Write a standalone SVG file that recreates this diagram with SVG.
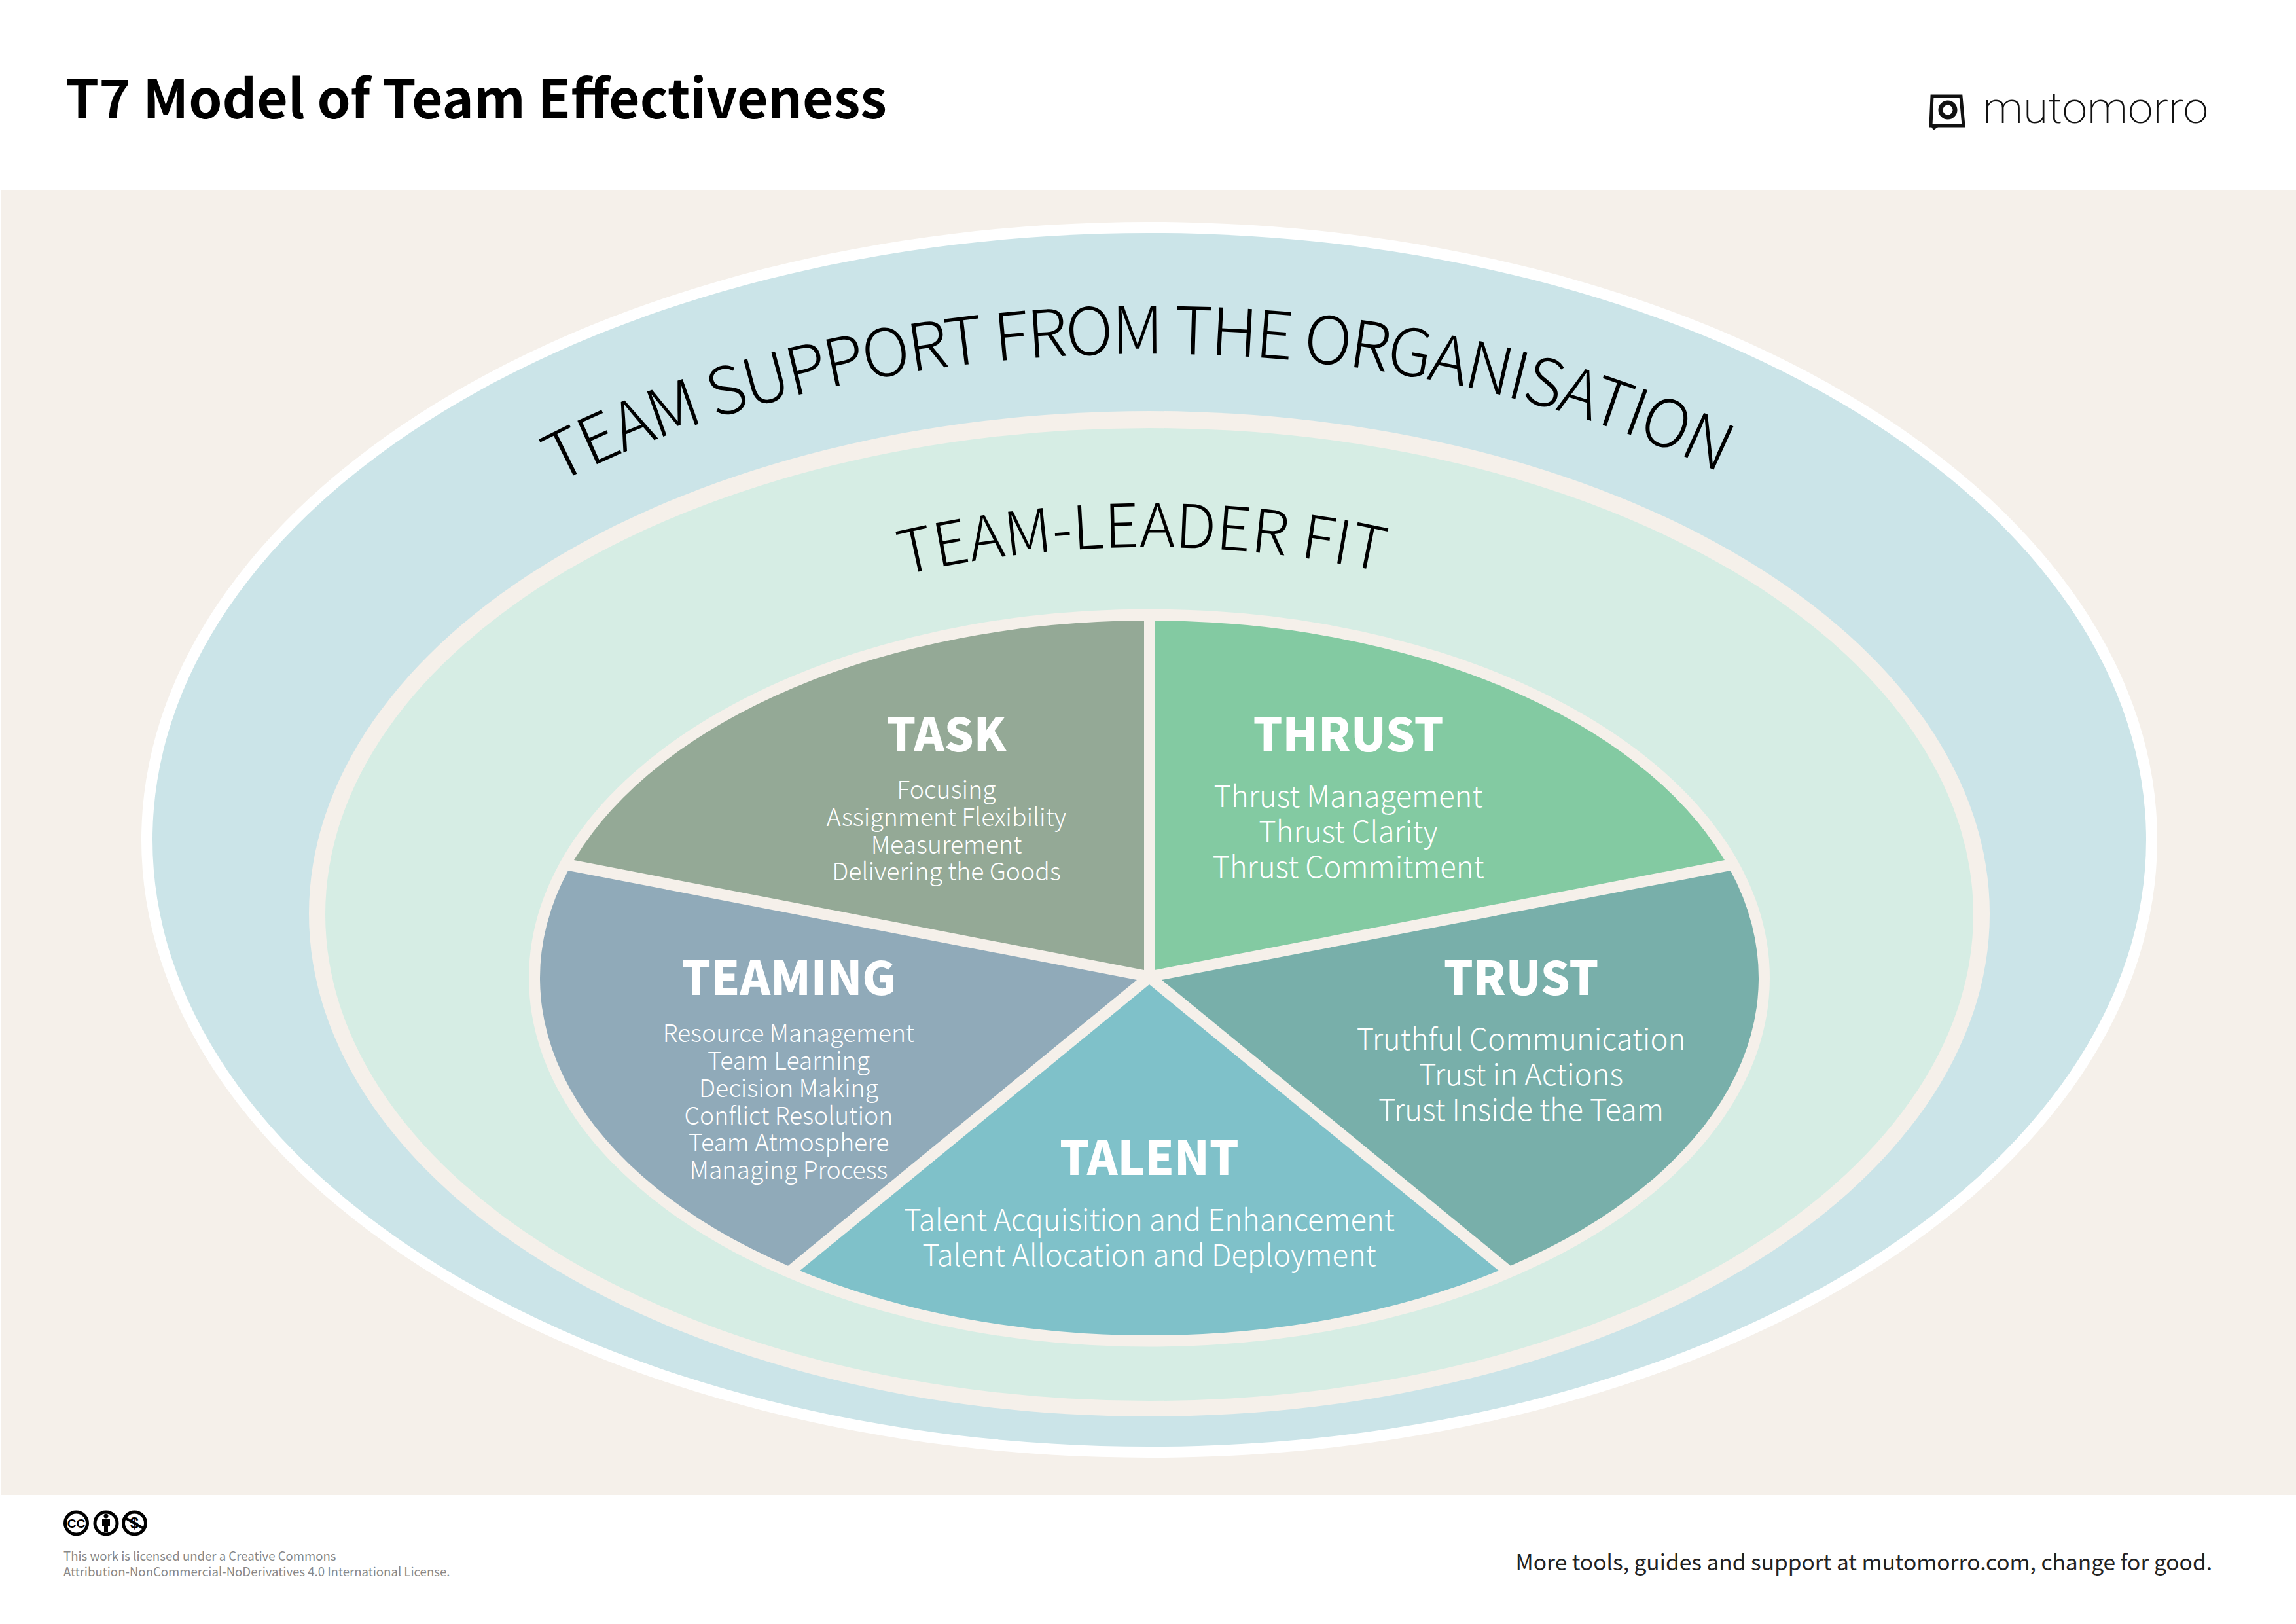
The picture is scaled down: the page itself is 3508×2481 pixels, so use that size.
<svg xmlns="http://www.w3.org/2000/svg" width="3508" height="2481" viewBox="0 0 3508 2481">
<defs>
<style>
text{font-family:"Noto Sans CJK SC","Liberation Sans",sans-serif}
.h{font-size:70.5px;font-weight:900;fill:#fff;text-anchor:middle}
.s{font-size:37.4px;font-weight:300;fill:#fff;text-anchor:middle}
.l{font-size:45.4px;font-weight:300;fill:#fff;text-anchor:middle}
.arc{font-weight:200;fill:#000;text-anchor:middle}
.lic{font-size:18.6px;fill:#888}
</style>
<path id="p1" d="M427,1283 A1329,743 0 0 1 3085,1283"/>
<path id="p2" d="M773,1397 A983,561 0 0 1 2739,1397"/>
</defs>
<rect width="3508" height="2481" fill="#fff"/>
<rect x="2" y="291" width="3506" height="1993" fill="#f5f0ea"/>
<text x="100" y="181" font-size="82" font-weight="700" fill="#000">T7 Model of Team Effectiveness</text>
<g id="logo">
<path d="M2952,147 L2996,147 L3000,192 L2950,192 Z" fill="none" stroke="#111" stroke-width="5"/>
<path d="M2950,192 L2954,199 L2964,192 Z" fill="#111"/>
<circle cx="2976" cy="168" r="11" fill="none" stroke="#111" stroke-width="7"/>
<text x="3029" y="188" font-size="66" font-weight="200" style="font-family:Roboto,sans-serif" textLength="345" lengthAdjust="spacingAndGlyphs" fill="#111">mutomorro</text>
</g>
<g id="ring-organisation">
<ellipse cx="1756" cy="1283" rx="1540" ry="944" fill="#fff"/>
<ellipse cx="1756" cy="1283" rx="1523" ry="927" fill="#cbe4e8"/>
<text class="arc" font-size="100" letter-spacing="-3.1"><textPath href="#p1" startOffset="49.42%">TEAM SUPPORT FROM THE ORGANISATION</textPath></text>
</g>
<g id="ring-leader">
<ellipse cx="1756" cy="1396" rx="1284" ry="768" fill="#f5f0ea"/>
<ellipse cx="1756" cy="1397" rx="1259" ry="743" fill="#d6ede4"/>
<text class="arc" font-size="92"><textPath href="#p2" startOffset="49.56%">TEAM-LEADER FIT</textPath></text>
</g>
<ellipse id="pie-base" cx="1756" cy="1494" rx="948" ry="563.5" fill="#f5f0ea"/>
<g id="task">
<path d="M877,1314.1 A931,546 0 0 1 1748,948 L1748,1482 Z" fill="#94a996"/>
<text class="h" x="1446" y="1148">TASK</text>
<text class="s" x="1446" y="1220">Focusing</text>
<text class="s" x="1446" y="1262">Assignment Flexibility</text>
<text class="s" x="1446" y="1304">Measurement</text>
<text class="s" x="1446" y="1345">Delivering the Goods</text>
</g>
<g id="thrust">
<path d="M1764,948 A931,546 0 0 1 2635,1314.1 L1764,1482 Z" fill="#83caa2"/>
<text class="h" x="2060" y="1148">THRUST</text>
<text class="l" x="2060" y="1233">Thrust Management</text>
<text class="l" x="2060" y="1287">Thrust Clarity</text>
<text class="l" x="2060" y="1341">Thrust Commitment</text>
</g>
<g id="trust">
<path d="M2644,1330 A931,546 0 0 1 2308,1933.7 L1775,1497 Z" fill="#78afaa"/>
<text class="h" x="2324" y="1520">TRUST</text>
<text class="l" x="2324" y="1604">Truthful Communication</text>
<text class="l" x="2324" y="1658">Trust in Actions</text>
<text class="l" x="2324" y="1712">Trust Inside the Team</text>
</g>
<g id="talent">
<path d="M2290,1941.3 A931,546 0 0 1 1222,1941.3 L1756,1504 Z" fill="#7fc1c9"/>
<text class="h" x="1756" y="1795">TALENT</text>
<text class="l" x="1756" y="1880">Talent Acquisition and Enhancement</text>
<text class="l" x="1756" y="1934">Talent Allocation and Deployment</text>
</g>
<g id="teaming">
<path d="M1204,1933.7 A931,546 0 0 1 868,1330 L1737,1497 Z" fill="#90aab9"/>
<text class="h" x="1205" y="1520">TEAMING</text>
<text class="s" x="1205" y="1592">Resource Management</text>
<text class="s" x="1205" y="1634">Team Learning</text>
<text class="s" x="1205" y="1676">Decision Making</text>
<text class="s" x="1205" y="1718">Conflict Resolution</text>
<text class="s" x="1205" y="1759">Team Atmosphere</text>
<text class="s" x="1205" y="1801">Managing Process</text>
</g>
<g id="licence">
<circle cx="116.5" cy="2327" r="17" fill="none" stroke="#000" stroke-width="5"/>
<text x="116.5" y="2334" font-size="19" font-weight="700" text-anchor="middle" style="font-family:'Liberation Sans',sans-serif">CC</text>
<circle cx="162" cy="2327" r="17" fill="none" stroke="#000" stroke-width="5"/>
<circle cx="162" cy="2316" r="3.5"/>
<path d="M156,2321 H168 V2331 H165 V2341 H159 V2331 H156 Z"/>
<circle cx="205.5" cy="2327" r="17" fill="none" stroke="#000" stroke-width="5"/>
<text x="205.5" y="2335" font-size="23" font-weight="700" text-anchor="middle" style="font-family:'Liberation Sans',sans-serif">$</text>
<path d="M190,2318 L221,2336" stroke="#000" stroke-width="4"/>
<text class="lic" x="97" y="2384">This work is licensed under a Creative Commons</text>
<text class="lic" x="97" y="2408">Attribution-NonCommercial-NoDerivatives 4.0 International License.</text>
</g>
<text x="3380" y="2399" font-size="33.5" fill="#222" text-anchor="end">More tools, guides and support at mutomorro.com, change for good.</text>
</svg>
